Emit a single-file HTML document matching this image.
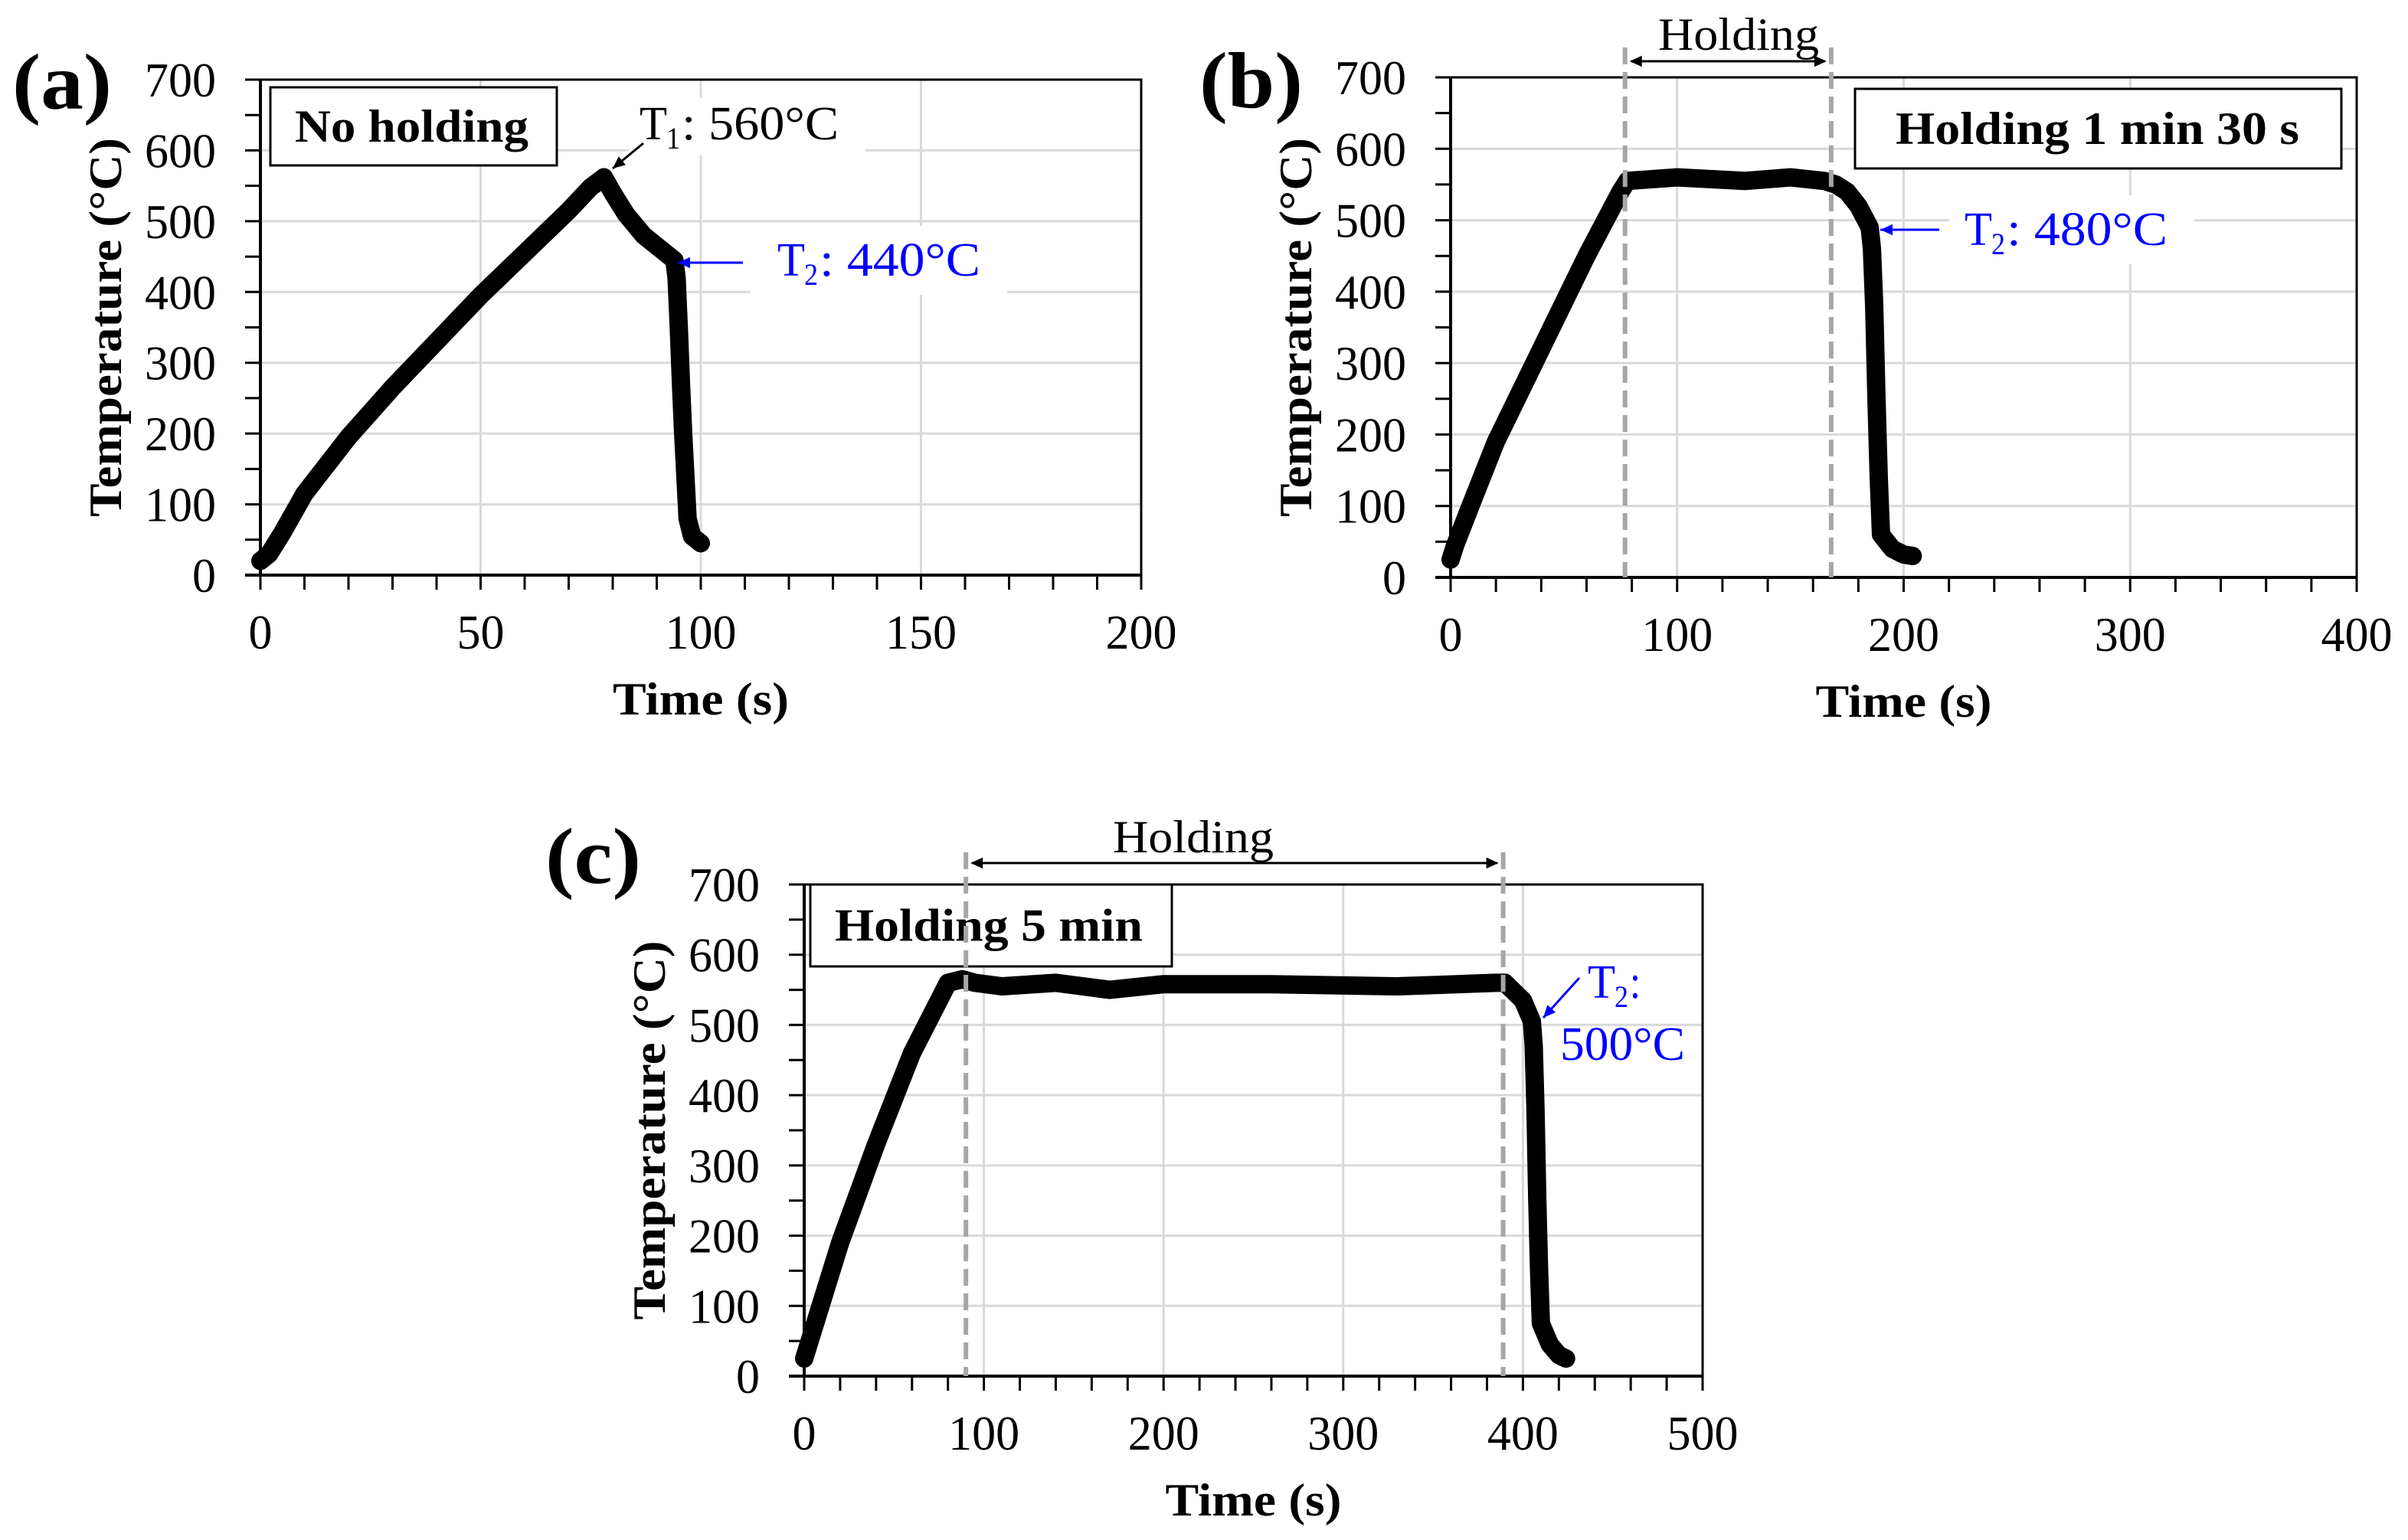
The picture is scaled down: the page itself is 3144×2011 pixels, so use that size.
<!DOCTYPE html>
<html><head><meta charset="utf-8"><style>
html,body{margin:0;padding:0;background:#fff;overflow:hidden;}
svg{display:block;font-family:"Liberation Serif",serif;}
</style></head><body>
<svg id="fig" width="3144" height="2011" viewBox="0 0 3144 2011" xmlns="http://www.w3.org/2000/svg">
<rect width="3144" height="2011" fill="#fff"/>
</svg>
<script>
// Panel (a) data
const timeA = [0,2,5,10,20,30,40,50,60,70,75,78,80,83,87,92,94,94.5,95,95.5,96,97,98,100];
const tempA = [20,30,60,115,195,265,330,395,455,515,548,562,540,510,480,455,445,420,350,270,200,80,55,45];
// Panel (b) data
const timeB = [0,2,10,20,40,60,75,78,100,130,150,165,170,175,180,185,186,187,188,189,190,195,200,204];
const tempB = [25,45,110,190,320,450,540,555,560,555,560,555,550,540,520,490,460,380,250,140,60,40,32,30];
// Panel (c) data
const timeC = [0,20,40,60,80,88,95,110,140,170,200,260,330,385,390,400,405,406,407,408,409,410,415,420,424];
const tempC = [25,190,330,460,560,565,560,555,560,550,558,558,555,560,560,535,505,470,380,250,150,75,45,30,25];
const yTicks = [0,100,200,300,400,500,600,700];
const xTicksA = [0,50,100,150,200];
const xTicksB = [0,100,200,300,400];
const xTicksC = [0,100,200,300,400,500];

const svg = document.getElementById('fig');
const NS = 'http://www.w3.org/2000/svg';
function el(tag, attrs, parent){
  const e = document.createElementNS(NS, tag);
  for (const k in attrs) e.setAttribute(k, attrs[k]);
  (parent||svg).appendChild(e);
  return e;
}
function txt(s, x, y, size, opts, parent){
  opts = opts||{};
  const t = el('text', {x:x, y:y, 'font-size':size, 'font-weight':opts.bold?'bold':'normal',
    fill:opts.fill||'#000', 'text-anchor':opts.anchor||'start'}, parent);
  if (opts.len){ t.setAttribute('textLength', opts.len); t.setAttribute('lengthAdjust','spacingAndGlyphs'); }
  if (opts.rot) t.setAttribute('transform', 'rotate(-90 '+x+' '+y+')');
  t.textContent = s;
  return t;
}

function panel(cfg){
  const g = el('g', {});
  
  
  const L=cfg.L, R=cfg.R, T=cfg.T, B=cfg.B, xmax=cfg.xTicks[cfg.xTicks.length-1];
  const sx = v => L + v/xmax*(R-L);
  const sy = v => B - v/700*(B-T);
  const grid = el('g', {stroke:'#d9d9d9','stroke-width':3}, g);
  
  
  yTicks.forEach(v=>{ if(v>0) el('line',{x1:L,x2:R,y1:sy(v),y2:sy(v)},grid); });
  cfg.xTicks.forEach(v=>{ if(v>0) el('line',{x1:sx(v),x2:sx(v),y1:T,y2:B},grid); });
  el('rect',{x:L,y:T,width:R-L,height:B-T,fill:'none',stroke:'#000','stroke-width':3},g);
  el('line',{x1:L,x2:L,y1:T,y2:B,stroke:'#000','stroke-width':4},g);
  el('line',{x1:L-20,x2:R,y1:B,y2:B,stroke:'#000','stroke-width':4},g);
  for(let v=0; v<=700; v+=50){
    el('line',{x1:L-20,x2:L,y1:sy(v),y2:sy(v),stroke:'#000','stroke-width':3},g);
  }
  yTicks.forEach(v=>{
    const s=String(v);
    const t=txt(s, L-58, sy(v)+22, 64, {anchor:'end', len:s.length*31}, g);
    
    
  });
  for(let v=0; v<=xmax+1e-9; v+=cfg.minor){
    el('line',{x1:sx(v),x2:sx(v),y1:B,y2:B+19,stroke:'#000','stroke-width':3},g);
  }
  cfg.xTicks.forEach(v=>{
    const s=String(v);
    const t=txt(s, sx(v), B+96, 64, {anchor:'middle', len:s.length*31}, g);
    
    
  });
  const yt = txt('Temperature (°C)', cfg.yTitleX, (T+B)/2, 60, {bold:true, anchor:'middle', rot:true, len:495}, g);
  
  
  const xt = txt('Time (s)', (L+R)/2, B+182, 60, {bold:true, anchor:'middle', len:230}, g);
  
  
  const pl = txt(cfg.letter, cfg.letterX, cfg.letterY, 104, {bold:true, len:cfg.letterW}, g);
  
  
  const pts = cfg.t.map((v,i)=>sx(v)+','+sy(cfg.y[i])).join(' ');
  const line = el('polyline',{points:pts,fill:'none',stroke:'#000','stroke-width':24,'stroke-linejoin':'round','stroke-linecap':'round'},g);
  
  
  return {g, sx, sy};
}

function arrowHead(g, x1,y1,x2,y2,color,size){
  const a=Math.atan2(y2-y1,x2-x1), s=size||16;
  const p1=[x2-s*Math.cos(a)+s*0.45*Math.sin(a), y2-s*Math.sin(a)-s*0.45*Math.cos(a)];
  const p2=[x2-s*Math.cos(a)-s*0.45*Math.sin(a), y2-s*Math.sin(a)+s*0.45*Math.cos(a)];
  el('polygon',{points:x2+','+y2+' '+p1.join(',')+' '+p2.join(','),fill:color},g);
}
function arrow(g,x1,y1,x2,y2,color,name){
  const a = el('g',{},g);
  
  
  el('line',{x1:x1,y1:y1,x2:x2,y2:y2,stroke:color,'stroke-width':3},a);
  arrowHead(a,x1,y1,x2,y2,color);
  return a;
}
function box(g, x,y,w,h, label, tx, tlen, name){
  const b = el('g',{},g);
  
  
  el('rect',{x:x,y:y,width:w,height:h,fill:'#fff',stroke:'#000','stroke-width':3},b);
  txt(label, tx, y+h/2+20, 60, {bold:true, len:tlen}, b);
}
function holding(g, xa, xb, ytop, ybot, arrowY, labelX, labelY){
  const h = el('g',{},g);
  
  
  [xa,xb].forEach(x=>el('line',{x1:x,x2:x,y1:ytop,y2:ybot,stroke:'#a6a6a6','stroke-width':6,'stroke-dasharray':'22,10'},h));
  el('line',{x1:xa+8,x2:xb-8,y1:arrowY,y2:arrowY,stroke:'#000','stroke-width':3},h);
  arrowHead(h,xb,arrowY,xa+6,arrowY,'#000');
  arrowHead(h,xa,arrowY,xb-6,arrowY,'#000');
  txt('Holding', labelX, labelY, 60, {len:210}, h);
}

// Panel (a)
const pa = panel({name:'panel-a', L:340,R:1490,T:104,B:751, xTicks:xTicksA, minor:10, t:timeA, y:tempA, yTitleX:158, letter:'(a)', letterX:16, letterY:142, letterW:130});
box(pa.g, 353,114,374,102, 'No holding', 385, 305, 'legend-box-a');
{ const gg=pa.g;
  el('rect',{x:820,y:128,width:310,height:75,fill:'#fff'},gg);
  const t1=txt('T', 835, 182, 62, {len:36}, gg);
   
  txt('1', 870, 194, 40, {len:18}, gg);
  txt(': 560°C', 890, 182, 62, {len:205}, gg);
  arrow(gg, 840,187, 800,220, '#000', 't1-arrow');
  el('rect',{x:980,y:295,width:335,height:90,fill:'#fff'},gg);
  const t2=txt('T', 1015, 360, 62, {fill:'#0000ff',len:36}, gg);
   
  txt('2', 1050, 372, 40, {fill:'#0000ff',len:18}, gg);
  txt(': 440°C', 1070, 360, 62, {fill:'#0000ff',len:210}, gg);
  arrow(gg, 970,343, 885,343, '#0000ff', 't2-arrow-a');
}

// Panel (b)
const pb = panel({name:'panel-b', L:1894,R:3077,T:101,B:754, xTicks:xTicksB, minor:20, t:timeB, y:tempB, yTitleX:1712, letter:'(b)', letterX:1566, letterY:140, letterW:135});
box(pb.g, 2422,116,635,104, 'Holding 1 min 30 s', 2475, 527, 'legend-box-b');
holding(pb.g, pb.sx(77), pb.sx(168), 62, 754, 80, 2165, 65);
{ const gg=pb.g;
  el('rect',{x:2545,y:255,width:320,height:90,fill:'#fff'},gg);
  const t2=txt('T', 2565, 320, 62, {fill:'#0000ff',len:36}, gg);
   
  txt('2', 2600, 332, 40, {fill:'#0000ff',len:18}, gg);
  txt(': 480°C', 2620, 320, 62, {fill:'#0000ff',len:210}, gg);
  arrow(gg, 2532,300, 2455,300, '#0000ff', 't2-arrow-b');
}

// Panel (c)
const pc = panel({name:'panel-c', L:1050,R:2223,T:1155,B:1797, xTicks:xTicksC, minor:20, t:timeC, y:tempC, yTitleX:868, letter:'(c)', letterX:712, letterY:1153, letterW:125});
box(pc.g, 1058,1155,472,107, 'Holding 5 min', 1090, 402, 'legend-box-c');
holding(pc.g, pc.sx(90), pc.sx(389), 1113, 1797, 1127, 1453, 1113);
{ const gg=pc.g;
  const t2=txt('T', 2073, 1303, 62, {fill:'#0000ff',len:36}, gg);
   
  txt('2', 2108, 1315, 40, {fill:'#0000ff',len:18}, gg);
  txt(':', 2128, 1303, 62, {fill:'#0000ff',len:14}, gg);
  txt('500°C', 2037, 1384, 62, {fill:'#0000ff',len:163}, gg);
  arrow(gg, 2062,1277, 2015,1329, '#0000ff', 't2-arrow-c');
}
</script>
</body></html>
